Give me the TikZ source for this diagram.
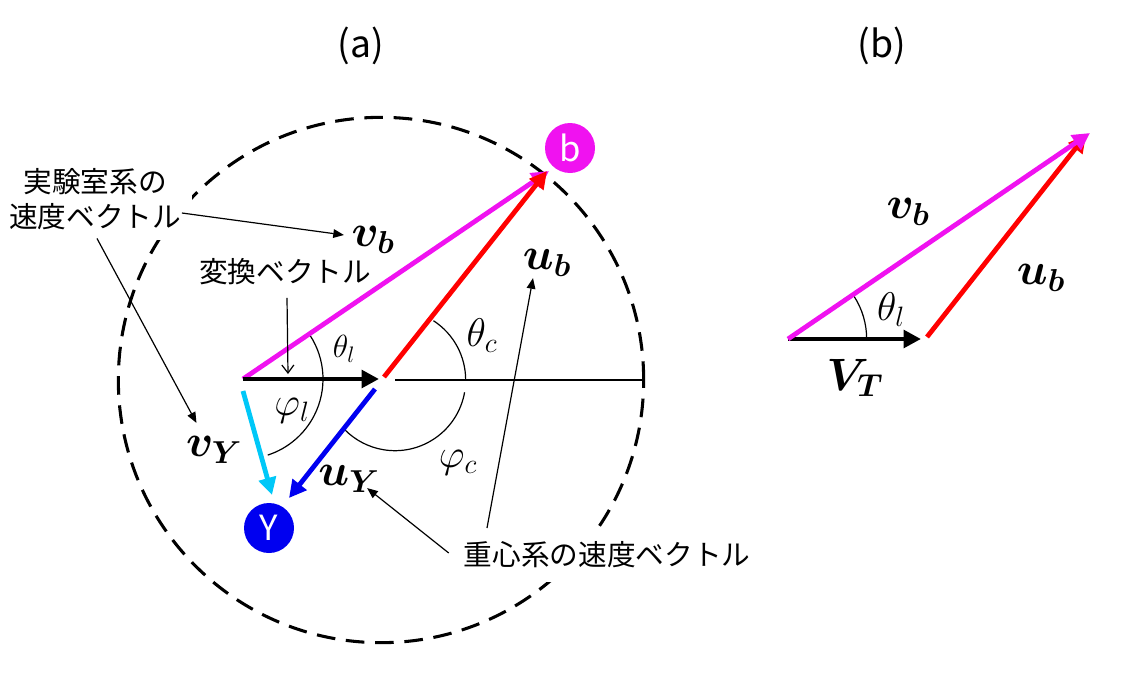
\RequirePackage{fix-cm}
\documentclass[tikz,border=0pt]{standalone}
\usepackage{bm}
\usepackage{fontspec}
\setmainfont{Noto Sans CJK JP}
\usetikzlibrary{arrows.meta, positioning, calc}

\definecolor{vbmag}{HTML}{F012F0}
\definecolor{vycyan}{HTML}{00C8F8}
\definecolor{uyblue}{HTML}{0000F0}

\begin{document}
\begin{tikzpicture}[x=0.75pt, y=-0.75pt,
    vec/.style={line width=3.6pt, -{Triangle[length=13pt,width=13pt]}},
    ptr/.style={line width=0.9pt, -{Triangle[length=8pt,width=6.5pt]}},
    thinln/.style={line width=0.9pt},
    jp/.style={font=\fontsize{21.5}{26}\selectfont, align=center, inner sep=1pt},
    lab/.style={font=\fontsize{34}{38}\selectfont, inner sep=1pt},
    ang/.style={font=\fontsize{30}{34}\selectfont, inner sep=1pt},
    ball/.style={circle, minimum size=37.5pt, inner sep=0pt, text=white, font=\fontsize{26}{30}\selectfont}]
    \useasboundingbox (0,0) rectangle (1136,678);

    % Titles
    \node[font=\fontsize{28}{32}\selectfont] (ta) at (361,46) {(a)};
    \node[font=\fontsize{28}{32}\selectfont] (tb) at (882,46) {(b)};

    % (a) points
    \coordinate (O) at (243,379);
    \coordinate (CM) at (381,380);
    \coordinate (CMc) at (395,380);
    \coordinate (Rim) at (644,380);

    % Sphere of the CM velocity (dashed)
    \draw[line width=2.3pt, dash pattern=on 14pt off 8pt] (CM) circle[radius=197pt];

    % Text labels (white behind)
    \node[jp, fill=white, inner sep=8pt] (labtxt) at (95,199) {実験室系の\\速度ベクトル};
    \node[jp] (trtxt) at (285,272) {変換ベクトル};
    \node[jp, fill=white, inner xsep=8pt, inner ysep=10pt] (cmtxt) at (607,555) {重心系の速度ベクトル};

    % Angles
    \draw[thinln] (O) ++(33:60pt) arc[start angle=33, end angle=-72, radius=60pt];
    \draw[thinln] (CMc) ++(57:53pt) arc[start angle=57, end angle=0, radius=53pt];
    \draw[thinln] (CMc) ++(-10:53pt) arc[start angle=-10, end angle=-135, radius=53pt];
    \draw[thinln] (CMc) -- (Rim);

    % Vectors
    \draw[vec, vbmag] (O) -- (549,171);
    \draw[vec, red] (384,377) -- (547,171);
    \draw[vec] (O) -- (379,379);
    \draw[vec, uyblue] (375,389) -- (289,498);
    \draw[vec, vycyan] (243,391) -- (272,495);

    % Particles
    \node[ball, fill=vbmag] (bb) at (570,148) {b};
    \node[ball, fill=uyblue] (yb) at (269,528) {Y};

    % Vector names
    \node[lab] (vblab) at (373,240) {$\bm{v_b}$};
    \node[lab] (ublab) at (547,263) {$\bm{u_b}$};
    \node[lab] (vYlab) at (214,450) {$\bm{v_Y}$};
    \node[lab] (uYlab) at (349,479) {$\bm{u_Y}$};
    \node[font=\fontsize{24}{28}\selectfont] (thl) at (344,349) {$\theta_l$};
    \node[ang] (phl) at (292,411) {$\varphi_l$};
    \node[ang] (thc) at (482,336) {$\theta_c$};
    \node[ang] (phc) at (458,463) {$\varphi_c$};

    % Pointers
    \coordinate (Vmid) at (288,374);
    \coordinate (ubfoot) at (487,528);
    \draw[ptr] ($(labtxt.east)+(-10,14)$) -- ($(vblab.west)+(-6,-5)$);
    \draw[ptr] ($(labtxt.south)+(2,-2)$) -- ($(vYlab.north west)+(12,-12)$);
    \draw[thinln, -{Straight Barb[length=6pt,width=9pt]}] ($(trtxt.south)+(2,11)$) -- (Vmid);
    \draw[ptr] ($(cmtxt.west)+(-4,-2)$) -- ($(uYlab.south east)+(-14,-6)$);
    \draw[ptr] (ubfoot) -- ($(ublab.south)+(-14,0)$);

    % (b) velocity triangle
    \coordinate (P) at (788,339);
    \draw[thinln] (P) ++(33:59pt) arc[start angle=33, end angle=0, radius=59pt];
    \draw[vec] (P) -- (921,339);
    \draw[vec, red] (927,337) -- (1086,135);
    \draw[vec, vbmag] (P) -- (1090,133);
    \node[lab] (vblab2) at (908,212) {$\bm{v_b}$};
    \node[lab] (ublab2) at (1041,278) {$\bm{u_b}$};
    \node[ang] (thl2) at (891,310) {$\theta_l$};
    \node[lab] (vtlab) at (855,378) {$\bm{V_T}$};
\end{tikzpicture}
\end{document}
